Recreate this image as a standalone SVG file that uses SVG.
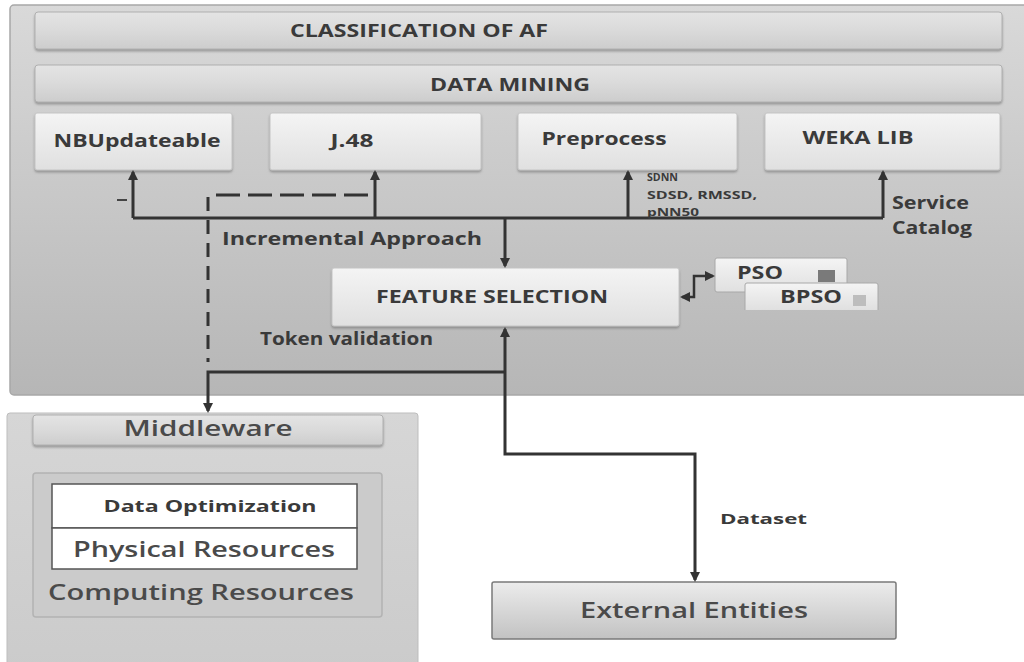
<svg xmlns="http://www.w3.org/2000/svg" width="1024" height="662" viewBox="0 0 1024 662">
  <defs>
    <linearGradient id="panelGrad" x1="0" y1="0" x2="0" y2="1">
      <stop offset="0" stop-color="#d9d9d9"/>
      <stop offset="1" stop-color="#b6b6b6"/>
    </linearGradient>
    <linearGradient id="lowerGrad" x1="0" y1="0" x2="0" y2="1">
      <stop offset="0" stop-color="#d6d6d6"/>
      <stop offset="1" stop-color="#cbcbcb"/>
    </linearGradient>
    <linearGradient id="barGrad" x1="0" y1="0" x2="0" y2="1">
      <stop offset="0" stop-color="#e4e4e4"/>
      <stop offset="0.5" stop-color="#dadada"/>
      <stop offset="1" stop-color="#cdcdcd"/>
    </linearGradient>
    <linearGradient id="boxGrad" x1="0" y1="0" x2="0" y2="1">
      <stop offset="0" stop-color="#f4f4f4"/>
      <stop offset="1" stop-color="#e0e0e0"/>
    </linearGradient>
    <linearGradient id="extGrad" x1="0" y1="0" x2="0" y2="1">
      <stop offset="0" stop-color="#ececec"/>
      <stop offset="1" stop-color="#c2c2c2"/>
    </linearGradient>
    <filter id="shadow" x="-5%" y="-20%" width="110%" height="150%">
      <feDropShadow dx="0" dy="2" stdDeviation="1.2" flood-color="#707070" flood-opacity="0.6"/>
    </filter>
    <marker id="arrow" viewBox="0 0 10 10" refX="8" refY="5" markerWidth="10" markerHeight="10" markerUnits="userSpaceOnUse" orient="auto-start-reverse">
      <path d="M0,0 L10,5 L0,10 z" fill="#333"/>
    </marker>
    <style>
      .lbl { font-family: "Open Sans", "DejaVu Sans", sans-serif; font-weight: 700; fill: #3a3a3a; }
      .soft { font-family: "Open Sans", "DejaVu Sans", sans-serif; font-weight: 600; fill: #4a4a4a; }
      .bar { fill: url(#barGrad); stroke: #b0b0b0; stroke-width: 1; filter: url(#shadow); }
      .box { fill: url(#boxGrad); stroke: #c4c4c4; stroke-width: 1; filter: url(#shadow); }
      .wire { fill: none; stroke: #333; stroke-width: 3; }
      .dash-h { fill: none; stroke: #333; stroke-width: 3; stroke-dasharray: 24 8; }
      .dash-v { fill: none; stroke: #333; stroke-width: 3; stroke-dasharray: 14 9; }
    </style>
  </defs>

  <rect width="1024" height="662" fill="#ffffff"/>

  <!-- upper panel -->
  <g id="upper-panel">
    <rect x="10" y="5" width="1030" height="390" rx="4" fill="url(#panelGrad)" stroke="#a8a8a8" stroke-width="1.5"/>
  </g>

  <!-- lower-left panel -->
  <g id="lower-panel">
    <rect x="7" y="413" width="411" height="260" rx="3" fill="url(#lowerGrad)" stroke="#bdbdbd" stroke-width="1"/>
  </g>

  <g id="classification">
    <rect class="bar" x="35" y="12" width="967" height="37" rx="3"/>
    <text class="lbl" x="419" y="37" font-size="17" text-anchor="middle" textLength="258" lengthAdjust="spacingAndGlyphs">CLASSIFICATION OF AF</text>
  </g>

  <g id="data-mining">
    <rect class="bar" x="35" y="65" width="967" height="37" rx="3"/>
    <text class="lbl" x="510" y="91" font-size="17" text-anchor="middle" textLength="160" lengthAdjust="spacingAndGlyphs">DATA MINING</text>
  </g>

  <g id="nbupdateable">
    <rect class="box" x="35" y="113" width="197" height="57" rx="2"/>
    <text class="lbl" x="137" y="147" font-size="17" text-anchor="middle" textLength="167" lengthAdjust="spacingAndGlyphs">NBUpdateable</text>
  </g>

  <g id="j48">
    <rect class="box" x="270" y="113" width="211" height="57" rx="2"/>
    <text class="lbl" x="352" y="147" font-size="17" text-anchor="middle" textLength="43" lengthAdjust="spacingAndGlyphs">J.48</text>
  </g>

  <g id="preprocess">
    <rect class="box" x="518" y="113" width="219" height="57" rx="2"/>
    <text class="lbl" x="604" y="145" font-size="17" text-anchor="middle" textLength="125" lengthAdjust="spacingAndGlyphs">Preprocess</text>
  </g>

  <g id="weka-lib">
    <rect class="box" x="765" y="113" width="235" height="57" rx="2"/>
    <text class="lbl" x="858" y="144" font-size="17" text-anchor="middle" textLength="111" lengthAdjust="spacingAndGlyphs">WEKA LIB</text>
  </g>

  <g id="feature-selection">
    <rect class="box" x="332" y="268" width="347" height="58" rx="2"/>
    <text class="lbl" x="492" y="303" font-size="17" text-anchor="middle" textLength="232" lengthAdjust="spacingAndGlyphs">FEATURE SELECTION</text>
  </g>

  <g id="pso">
    <rect x="715" y="258" width="132" height="34" rx="2" fill="url(#boxGrad)" stroke="#a8a8a8" stroke-width="1"/>
    <text class="lbl" x="760" y="279" font-size="17" text-anchor="middle" textLength="46" lengthAdjust="spacingAndGlyphs">PSO</text>
    <rect x="818" y="270" width="17" height="12" fill="#7a7a7a"/>
  </g>

  <g id="bpso">
    <path d="M745,310 V285 Q745,283 747,283 H876 Q878,283 878,285 V310 z" fill="url(#boxGrad)"/>
    <path d="M745,310 V285 Q745,283 747,283 H876 Q878,283 878,285 V310" fill="none" stroke="#a8a8a8" stroke-width="1"/>
    <text class="lbl" x="811" y="303" font-size="17" text-anchor="middle" textLength="62" lengthAdjust="spacingAndGlyphs">BPSO</text>
    <rect x="853" y="295" width="13" height="11" fill="#bdbdbd"/>
  </g>

  <g id="middleware">
    <rect class="bar" x="33" y="415" width="350" height="30" rx="3"/>
    <text class="soft" x="208" y="436" font-size="22" text-anchor="middle" textLength="169" lengthAdjust="spacingAndGlyphs">Middleware</text>
  </g>

  <g id="computing-resources">
    <rect x="33" y="473" width="349" height="144" rx="3" fill="#cbcbcb" stroke="#b3b3b3" stroke-width="1.5"/>
    <text class="soft" x="48" y="600" font-size="22" textLength="306" lengthAdjust="spacingAndGlyphs">Computing Resources</text>
  </g>

  <g id="data-optimization">
    <rect x="52" y="484" width="305" height="44" fill="#ffffff" stroke="#555" stroke-width="1.5"/>
    <text class="lbl" x="210" y="512" font-size="16" text-anchor="middle" textLength="213" lengthAdjust="spacingAndGlyphs">Data Optimization</text>
  </g>

  <g id="physical-resources">
    <rect x="52" y="528" width="305" height="41" fill="#ffffff" stroke="#555" stroke-width="1.5"/>
    <text class="soft" x="204" y="557" font-size="22" text-anchor="middle" textLength="262" lengthAdjust="spacingAndGlyphs">Physical Resources</text>
  </g>

  <g id="external-entities">
    <rect x="492" y="582" width="404" height="57" rx="2" fill="url(#extGrad)" stroke="#7a7a7a" stroke-width="1.5"/>
    <text class="soft" x="694" y="618" font-size="22" text-anchor="middle" textLength="228" lengthAdjust="spacingAndGlyphs">External Entities</text>
  </g>

  <!-- connectors -->
  <g id="connectors">
    <path class="wire" d="M133,218 H883"/>
    <path class="wire" d="M133,218 V172" marker-end="url(#arrow)"/>
    <path class="wire" d="M375,218 V172" marker-end="url(#arrow)"/>
    <path class="wire" d="M628,218 V172" marker-end="url(#arrow)"/>
    <path class="wire" d="M883,218 V172" marker-end="url(#arrow)"/>
    <path class="wire" d="M505,218 V266" marker-end="url(#arrow)"/>
    <path d="M117,200 H127" stroke="#444" stroke-width="2"/>
    <path class="dash-h" d="M368,195 H208"/>
    <path class="dash-v" d="M208,197 V362"/>
    <path class="wire" d="M505,372 H208 V411" marker-end="url(#arrow)"/>
    <path class="wire" d="M505,329 V454 H695 V580" marker-start="url(#arrow)" marker-end="url(#arrow)"/>
    <path class="wire" style="stroke-width:2.5" d="M682,297 H694 V276 H713" marker-start="url(#arrow)" marker-end="url(#arrow)"/>
  </g>

  <!-- connector labels -->
  <g id="labels">
    <text class="lbl" x="647" y="181" font-size="10" textLength="31" lengthAdjust="spacingAndGlyphs">SDNN</text>
    <text class="lbl" x="647" y="199" font-size="10" textLength="110" lengthAdjust="spacingAndGlyphs">SDSD, RMSSD,</text>
    <text class="lbl" x="647" y="216" font-size="10" textLength="52" lengthAdjust="spacingAndGlyphs">pNN50</text>
    <text class="lbl" x="892" y="209" font-size="17" textLength="77" lengthAdjust="spacingAndGlyphs">Service</text>
    <text class="lbl" x="892" y="234" font-size="17" textLength="80" lengthAdjust="spacingAndGlyphs">Catalog</text>
    <text class="lbl" x="222" y="245" font-size="17" textLength="260" lengthAdjust="spacingAndGlyphs">Incremental Approach</text>
    <text class="lbl" x="260" y="345" font-size="17" textLength="173" lengthAdjust="spacingAndGlyphs">Token validation</text>
    <text class="lbl" x="720" y="524" font-size="15" textLength="87" lengthAdjust="spacingAndGlyphs">Dataset</text>
  </g>
</svg>
